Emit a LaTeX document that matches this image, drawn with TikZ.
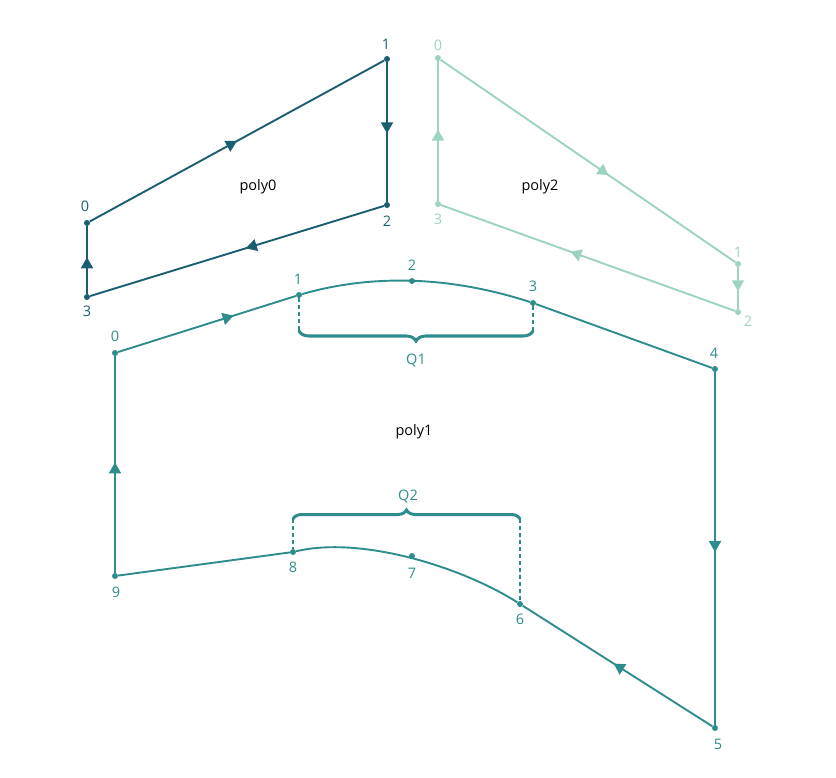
\documentclass[tikz,border=0pt]{standalone}
\usepackage{fontspec}
\setmainfont{Open Sans}
\usetikzlibrary{arrows.meta, decorations.markings, decorations.pathreplacing}

\definecolor{darkteal}{HTML}{1B5E6F}
\definecolor{midteal}{HTML}{2E8C8C}
\definecolor{paleteal}{HTML}{9DD3C2}

\tikzstyle{vdot} = [circle, fill, inner sep = 0pt, minimum size = 6pt]
\tikzstyle{vnum} = [inner sep = 0pt, font = \fontsize{14.5}{17}\selectfont]
\tikzstyle{pname} = [inner sep = 0pt, font = \fontsize{14.5}{17}\selectfont]
\tikzstyle{edge} = [line width = 1.9pt]
\tikzstyle{guide} = [line width = 1.9pt, dash pattern = on 4pt off 3pt]
\tikzstyle{qbrace} = [decorate, line width = 3pt, line cap = round]
\tikzset{midarrow/.style = {postaction = {decorate}, decoration = {markings, mark = at position #1 with {\arrow{Triangle[length = 11pt, width = 12pt]}}}}}

\begin{document}
\begin{tikzpicture}[x = 1pt, y = -1pt]
  \useasboundingbox (0, 0) rectangle (836, 778);
  % poly0
  \foreach \n/\x/\y/\lx/\ly in {0/87/223/85/206, 1/387/59/386/44, 2/387/205/387/221, 3/87/297/87/311} {
    \node[vdot, darkteal] (a\n) at (\x, \y) {};
    \node[vnum, darkteal] (la\n) at (\lx, \ly) {\n};
  }
  \foreach \i/\j/\t in {0/1/0.5, 1/2/0.51, 2/3/0.47, 3/0/0.54} {
    \draw[edge, darkteal, midarrow = \t] (a\i) -- (a\j);
  }
  \node[pname] (name0) at (258, 187) {poly0};
  % poly2
  \foreach \n/\x/\y/\lx/\ly in {0/438/58/438/45, 1/738/264/738/252, 2/738/312/748/321, 3/438/204/438/219} {
    \node[vdot, paleteal] (c\n) at (\x, \y) {};
    \node[vnum, paleteal] (lc\n) at (\lx, \ly) {\n};
  }
  \foreach \i/\j/\t in {0/1/0.57, 1/2/0.58, 2/3/0.56, 3/0/0.51} {
    \draw[edge, paleteal, midarrow = \t] (c\i) -- (c\j);
  }
  \node[pname] (name2) at (540, 187) {poly2};
  % poly1
  \foreach \n/\x/\y/\lx/\ly in {0/115/353/115/336, 1/299/295/298/279, 2/412/281/412/265, 3/533/303/533/286, 4/715/369/714/353, 5/715/728/718/744, 6/520/604/520/619, 7/412/556/412/573, 8/293/552/293/567, 9/115/576/116/592} {
    \node[vdot, midteal] (b\n) at (\x, \y) {};
    \node[vnum, midteal] (lb\n) at (\lx, \ly) {\n};
  }
  \draw[edge, midteal, midarrow = 0.65] (b0) -- (b1);
  \draw[edge, midteal] (b1) .. controls (372, 274) and (450, 276) .. (b3);
  \draw[edge, midteal] (b3) -- (b4);
  \draw[edge, midteal, midarrow = 0.51] (b4) -- (b5);
  \draw[edge, midteal, midarrow = 0.52] (b5) -- (b6);
  \draw[edge, midteal] (b6) .. controls (460, 566) and (360, 536) .. (b8);
  \draw[edge, midteal] (b8) -- (b9);
  \draw[edge, midteal, midarrow = 0.51] (b9) -- (b0);
  \node[pname] (name1) at (414, 432) {poly1};
  % Q1 and Q2
  \coordinate (q1l) at (299, 331);
  \coordinate (q1r) at (533, 331);
  \draw[guide, midteal] (b1) -- (q1l);
  \draw[guide, midteal] (b3) -- (q1r);
  \draw[qbrace, midteal, decoration = {brace, mirror, amplitude = 10pt}] (q1l) -- (q1r);
  \node[vnum, midteal] (q1) at (416, 360) {Q1};
  \coordinate (q2l) at (293, 519);
  \coordinate (q2r) at (520, 519);
  \draw[guide, midteal] (q2l) -- (b8);
  \draw[guide, midteal] (q2r) -- (b6);
  \draw[qbrace, midteal, decoration = {brace, amplitude = 9pt}] (q2l) -- (q2r);
  \node[vnum, midteal] (q2) at (408, 496) {Q2};
\end{tikzpicture}
\end{document}
